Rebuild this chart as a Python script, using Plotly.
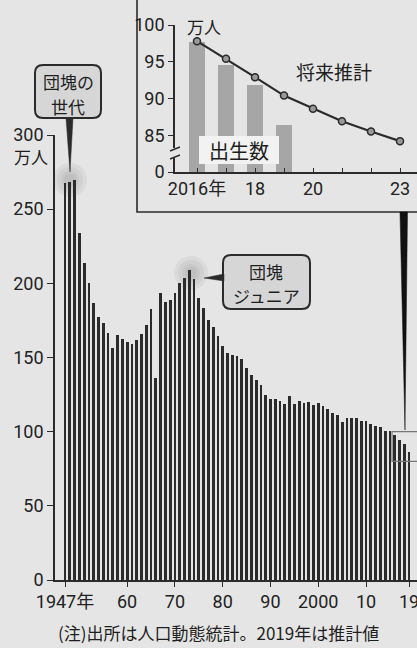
import plotly.graph_objects as go

W, H = 417, 648

# ---------------- data ----------------
years = list(range(1947, 2020))
births = [267.9, 268.2, 269.7, 233.8, 213.8, 200.5, 186.8, 177.0, 173.1, 166.5,
          156.7, 165.3, 162.6, 160.6, 158.9, 161.9, 166.0, 171.7, 182.4, 136.1,
          193.6, 187.2, 188.9, 193.4, 200.1, 203.9, 209.2, 203.0, 190.1, 183.3,
          175.5, 170.9, 164.3, 157.7, 152.9, 151.5, 150.9, 149.0, 143.2, 138.3,
          134.7, 131.4, 124.7, 122.2, 122.3, 120.9, 118.8, 123.8, 118.7, 120.7,
          119.2, 120.3, 117.8, 119.1, 117.1, 115.4, 112.4, 111.1, 106.3, 109.3,
          109.0, 109.1, 107.0, 107.1, 105.1, 103.7, 103.0, 100.4, 100.6, 97.7,
          94.6, 91.8, 86.4]
main_tick_years = [1947, 1960, 1970, 1980, 1990, 2000, 2010, 2019]
main_tick_text = ["1947年", "60", "70", "80", "90", "2000", "10", "19"]
main_y_ticks = [0, 50, 100, 150, 200, 250, 300]

inset_bar_years = [2016, 2017, 2018, 2019]
inset_bar_vals = [97.7, 94.6, 91.8, 86.4]
proj_years = [2016, 2017, 2018, 2019, 2020, 2021, 2022, 2023]
proj_vals = [97.8, 95.4, 92.9, 90.4, 88.6, 86.9, 85.5, 84.2]
inset_x_text = ["2016年", "", "18", "", "20", "", "", "23"]
inset_y_ticks = [80, 85, 90, 95, 100]
inset_y_text = ["0", "85", "90", "95", "100"]

# ---------------- style ----------------
BG = "#e5e5e5"
INK = "#2b2b2b"
NUM = "Roboto, Noto Sans CJK JP, sans-serif"
JP = "Noto Sans CJK JP, sans-serif"


def px(x):
    return x / W


def py(y):
    return 1 - y / H


def path(pts, close=True):
    s = "M " + " L ".join(f"{px(x):.5f},{py(y):.5f}" for x, y in pts)
    return s + (" Z" if close else "")


def rrect(x0, y0, x1, y1, r):
    P = lambda x, y: f"{px(x):.5f},{py(y):.5f}"
    return (f"M {P(x0+r,y0)} L {P(x1-r,y0)} Q {P(x1,y0)} {P(x1,y0+r)} "
            f"L {P(x1,y1-r)} Q {P(x1,y1)} {P(x1-r,y1)} L {P(x0+r,y1)} "
            f"Q {P(x0,y1)} {P(x0,y1-r)} L {P(x0,y0+r)} Q {P(x0,y0)} {P(x0+r,y0)} Z")


fig = go.Figure()

fig.add_trace(go.Bar(x=years, y=births, marker_color=INK, marker_line_width=0,
                     width=0.58, xaxis="x", yaxis="y"))
fig.add_trace(go.Bar(x=inset_bar_years, y=inset_bar_vals, marker_color="#a6a6a6",
                     marker_line_width=0, width=0.52, xaxis="x2", yaxis="y2"))
fig.add_trace(go.Scatter(x=proj_years, y=proj_vals, mode="lines+markers",
                         line=dict(color=INK, width=2.2),
                         marker=dict(size=7, color="#9a9a9a", line=dict(color=INK, width=1.5)),
                         xaxis="x2", yaxis="y2", cliponaxis=False))

# main axes mapping: 1947 at px 65, 2019 at px 409; y 0 at 580, 300 at 135
sx = (409 - 65) / 72
x_lo = 1947 - (65 - 55) / sx
x_hi = 1947 + (417 - 65) / sx
# inset mapping: 2016 at 197, 2023 at 400; 80 at 172, 100 at 25
sx2 = (400 - 197) / 7
x2_lo = 2016 - (197 - 175) / sx2
x2_hi = 2016 + (417 - 197) / sx2

axis_common = dict(showgrid=False, zeroline=False, showline=True, linecolor=INK,
                   linewidth=1.6, tickcolor=INK, tickwidth=1.4, automargin=False,
                   ticklabeloverflow="allow",
                   tickfont=dict(family=NUM, size=18, color="#222"))

fig.update_layout(
    template="none",
    width=W, height=H, margin=dict(l=0, r=0, t=0, b=0, pad=0, autoexpand=False),
    paper_bgcolor=BG, plot_bgcolor="rgba(0,0,0,0)", showlegend=False,
    bargap=0,
    xaxis=dict(domain=[px(55), 1], range=[x_lo, x_hi], tickmode="array",
               tickvals=main_tick_years, ticktext=main_tick_text, ticks="outside",
               ticklen=5, **axis_common),
    yaxis=dict(domain=[py(580), py(135)], range=[0, 300], tickmode="array",
               tickvals=main_y_ticks, ticks="outside", ticklen=6, **axis_common),
    xaxis2=dict(domain=[px(175), 1], range=[x2_lo, x2_hi], anchor="y2",
                tickmode="array", tickvals=proj_years, ticktext=inset_x_text,
                ticks="inside", ticklen=4, **axis_common),
    yaxis2=dict(domain=[py(172), py(25)], range=[80, 100], anchor="x2",
                tickmode="array", tickvals=inset_y_ticks, ticktext=inset_y_text,
                ticks="outside", ticklen=5, **axis_common),
)

shapes = []
# inset frame
shapes.append(dict(type="rect", xref="paper", yref="paper", x0=px(137), x1=px(425),
                   y0=py(212), y1=py(-10), line=dict(color=INK, width=1.6),
                   fillcolor="rgba(0,0,0,0)", layer="below"))
# soft glows at the two peaks
for (cx, cy) in [(70, 180), (191, 273)]:
    for r in (17, 13, 9, 6):
        shapes.append(dict(type="circle", xref="paper", yref="paper",
                           x0=px(cx - r), x1=px(cx + r), y0=py(cy + r), y1=py(cy - r),
                           fillcolor="rgba(90,90,90,0.07)", line=dict(width=0), layer="below"))
# pointer from inset to main chart
shapes.append(dict(type="path", xref="paper", yref="paper",
                   path=path([(400, 212), (407.5, 212), (405, 430)]),
                   fillcolor="#111", line=dict(color="#111", width=0.5)))
# magnified-range rectangle
shapes.append(dict(type="rect", xref="x", yref="y", x0=2015.45, x1=2021.5, y0=80, y1=100,
                   line=dict(color="#777", width=1.2), fillcolor="rgba(0,0,0,0)"))
# axis break on inset y axis
shapes.append(dict(type="rect", xref="paper", yref="paper", x0=px(172), x1=px(179),
                   y0=py(158), y1=py(148), fillcolor=BG, line=dict(width=0)))
shapes.append(dict(type="line", xref="paper", yref="paper", x0=px(170), x1=px(180),
                   y0=py(151), y1=py(147), line=dict(color=INK, width=1.4)))
shapes.append(dict(type="line", xref="paper", yref="paper", x0=px(170), x1=px(180),
                   y0=py(159), y1=py(155), line=dict(color=INK, width=1.4)))
# "出生数" white label box
shapes.append(dict(type="rect", xref="paper", yref="paper", x0=px(199), x1=px(279),
                   y0=py(164), y1=py(136), fillcolor="#f2f2f2", line=dict(width=0)))
# callout boxes
shapes.append(dict(type="path", xref="paper", yref="paper", path=rrect(35, 65, 101, 118, 8),
                   fillcolor="#d6d6d6", line=dict(color=INK, width=2)))
shapes.append(dict(type="path", xref="paper", yref="paper",
                   path=path([(66, 118), (73, 118), (70, 172)]),
                   fillcolor=INK, line=dict(color=INK, width=0.5)))
shapes.append(dict(type="path", xref="paper", yref="paper", path=rrect(223, 255, 310, 309, 8),
                   fillcolor="#d6d6d6", line=dict(color=INK, width=2)))
shapes.append(dict(type="path", xref="paper", yref="paper",
                   path=path([(224, 274), (224, 281), (204, 278)]),
                   fillcolor=INK, line=dict(color=INK, width=0.5)))
fig.update_layout(shapes=shapes)


def ann(text, x, y, size, family=JP, **kw):
    fig.add_annotation(text=text, x=px(x), y=py(y), xref="paper", yref="paper",
                       showarrow=False, xanchor="center", yanchor="middle",
                       font=dict(family=family, size=size, color="#1e1e1e"),
                       borderpad=0, **kw)


ann("万人", 31, 157, 17)
ann("団塊の", 68, 81, 17)
ann("世代", 68, 106, 17)
ann("団塊", 266, 271, 17)
ann("ジュニア", 266, 295, 17)
ann("将来推計", 334, 71, 19)
ann("出生数", 239, 150, 20)
ann("万人", 204, 27, 17)
ann("(注)出所は人口動態統計。2019年は推計値", 219, 632, 17)

fig.write_html("out.html", config={"displayModeBar": False},
               post_script="document.body.style.margin='0';document.body.style.overflow='hidden';")
